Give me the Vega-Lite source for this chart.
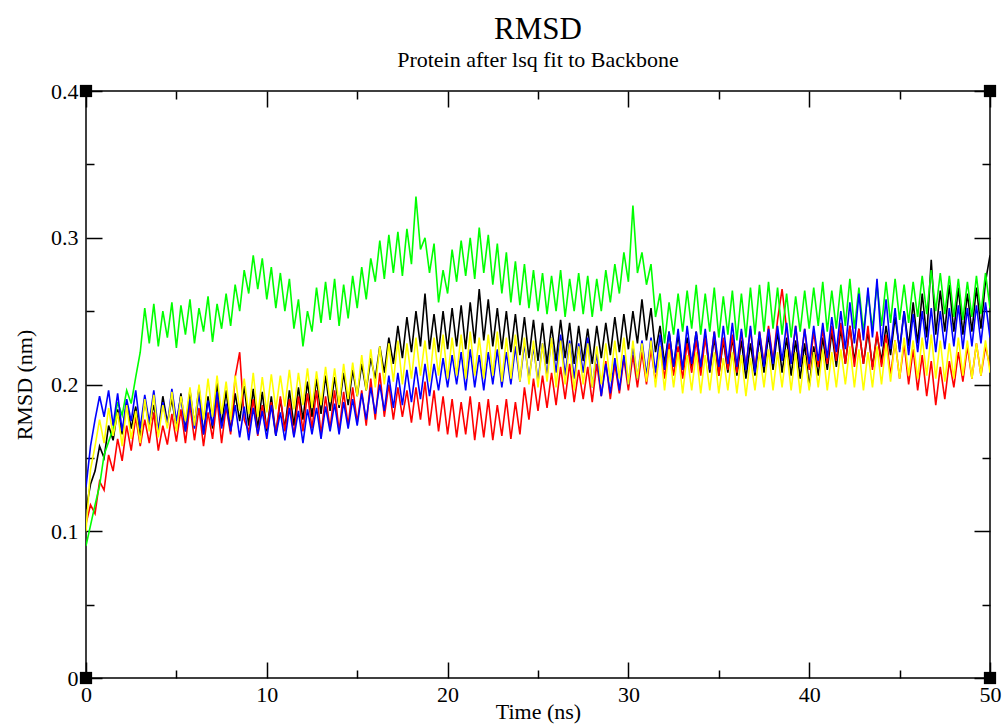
{
"$schema": "https://vega.github.io/schema/vega-lite/v6.json",
"width": 904, "height": 587,
"autosize": {"type": "none"},
"padding": {"left": 86, "top": 91, "right": 13, "bottom": 49},
"background": "white",
"config": {"font": "Liberation Serif", "view": {"stroke": "black", "strokeWidth": 1.5}},
"title": {"text": "RMSD", "subtitle": "Protein after lsq fit to Backbone", "anchor": "middle", "font": "Liberation Serif", "fontSize": 31, "fontWeight": "normal", "color": "black", "subtitleFont": "Liberation Serif", "subtitleFontSize": 22, "subtitleColor": "black", "offset": 8, "subtitlePadding": 4},
"datasets": {
"rmsd": [
{"t":0,"s0":0.115,"s1":0.105,"s2":0.090,"s3":0.130,"s4":0.100},
{"t":0.25,"s0":0.132,"s1":0.118,"s2":0.104,"s3":0.158,"s4":0.142},
{"t":0.5,"s0":0.141,"s1":0.112,"s2":0.118,"s3":0.176,"s4":0.158},
{"t":0.75,"s0":0.158,"s1":0.134,"s2":0.131,"s3":0.192,"s4":0.176},
{"t":1,"s0":0.150,"s1":0.128,"s2":0.152,"s3":0.178,"s4":0.160},
{"t":1.25,"s0":0.172,"s1":0.152,"s2":0.161,"s3":0.196,"s4":0.184},
{"t":1.5,"s0":0.162,"s1":0.141,"s2":0.170,"s3":0.172,"s4":0.165},
{"t":1.75,"s0":0.183,"s1":0.163,"s2":0.188,"s3":0.194,"s4":0.181},
{"t":2,"s0":0.166,"s1":0.148,"s2":0.179,"s3":0.168,"s4":0.158},
{"t":2.25,"s0":0.188,"s1":0.172,"s2":0.196,"s3":0.190,"s4":0.186},
{"t":2.5,"s0":0.170,"s1":0.155,"s2":0.187,"s3":0.175,"s4":0.163},
{"t":2.75,"s0":0.185,"s1":0.178,"s2":0.205,"s3":0.196,"s4":0.182},
{"t":3,"s0":0.164,"s1":0.158,"s2":0.222,"s3":0.170,"s4":0.160},
{"t":3.25,"s0":0.190,"s1":0.176,"s2":0.252,"s3":0.193,"s4":0.190},
{"t":3.5,"s0":0.172,"s1":0.160,"s2":0.228,"s3":0.174,"s4":0.168},
{"t":3.75,"s0":0.186,"s1":0.181,"s2":0.255,"s3":0.196,"s4":0.193},
{"t":4,"s0":0.168,"s1":0.155,"s2":0.226,"s3":0.168,"s4":0.164},
{"t":4.25,"s0":0.192,"s1":0.172,"s2":0.250,"s3":0.188,"s4":0.186},
{"t":4.5,"s0":0.174,"s1":0.159,"s2":0.232,"s3":0.172,"s4":0.170},
{"t":4.75,"s0":0.190,"s1":0.180,"s2":0.256,"s3":0.197,"s4":0.195},
{"t":5,"s0":0.170,"s1":0.161,"s2":0.225,"s3":0.175,"s4":0.168},
{"t":5.25,"s0":0.194,"s1":0.183,"s2":0.254,"s3":0.192,"s4":0.192},
{"t":5.5,"s0":0.168,"s1":0.160,"s2":0.234,"s3":0.168,"s4":0.175},
{"t":5.75,"s0":0.196,"s1":0.186,"s2":0.258,"s3":0.190,"s4":0.198},
{"t":6,"s0":0.172,"s1":0.162,"s2":0.228,"s3":0.170,"s4":0.172},
{"t":6.25,"s0":0.198,"s1":0.184,"s2":0.252,"s3":0.194,"s4":0.200},
{"t":6.5,"s0":0.166,"s1":0.158,"s2":0.236,"s3":0.166,"s4":0.176},
{"t":6.75,"s0":0.192,"s1":0.181,"s2":0.260,"s3":0.189,"s4":0.204},
{"t":7,"s0":0.170,"s1":0.163,"s2":0.229,"s3":0.172,"s4":0.178},
{"t":7.25,"s0":0.201,"s1":0.190,"s2":0.255,"s3":0.195,"s4":0.206},
{"t":7.5,"s0":0.172,"s1":0.160,"s2":0.238,"s3":0.170,"s4":0.180},
{"t":7.75,"s0":0.196,"s1":0.185,"s2":0.262,"s3":0.187,"s4":0.202},
{"t":8,"s0":0.168,"s1":0.166,"s2":0.240,"s3":0.168,"s4":0.176},
{"t":8.25,"s0":0.194,"s1":0.205,"s2":0.268,"s3":0.186,"s4":0.206},
{"t":8.5,"s0":0.175,"s1":0.222,"s2":0.250,"s3":0.164,"s4":0.182},
{"t":8.75,"s0":0.199,"s1":0.176,"s2":0.278,"s3":0.185,"s4":0.204},
{"t":9,"s0":0.172,"s1":0.168,"s2":0.262,"s3":0.162,"s4":0.180},
{"t":9.25,"s0":0.197,"s1":0.190,"s2":0.288,"s3":0.184,"s4":0.208},
{"t":9.5,"s0":0.170,"s1":0.165,"s2":0.265,"s3":0.166,"s4":0.178},
{"t":9.75,"s0":0.195,"s1":0.186,"s2":0.286,"s3":0.182,"s4":0.205},
{"t":10,"s0":0.168,"s1":0.170,"s2":0.258,"s3":0.163,"s4":0.181},
{"t":10.25,"s0":0.192,"s1":0.188,"s2":0.280,"s3":0.186,"s4":0.207},
{"t":10.5,"s0":0.165,"s1":0.166,"s2":0.252,"s3":0.165,"s4":0.183},
{"t":10.75,"s0":0.190,"s1":0.192,"s2":0.276,"s3":0.181,"s4":0.206},
{"t":11,"s0":0.170,"s1":0.168,"s2":0.250,"s3":0.162,"s4":0.185},
{"t":11.25,"s0":0.196,"s1":0.190,"s2":0.272,"s3":0.184,"s4":0.210},
{"t":11.5,"s0":0.172,"s1":0.165,"s2":0.238,"s3":0.164,"s4":0.183},
{"t":11.75,"s0":0.198,"s1":0.192,"s2":0.258,"s3":0.182,"s4":0.208},
{"t":12,"s0":0.176,"s1":0.168,"s2":0.226,"s3":0.160,"s4":0.186},
{"t":12.25,"s0":0.202,"s1":0.194,"s2":0.250,"s3":0.183,"s4":0.211},
{"t":12.5,"s0":0.178,"s1":0.170,"s2":0.236,"s3":0.166,"s4":0.184},
{"t":12.75,"s0":0.204,"s1":0.196,"s2":0.266,"s3":0.184,"s4":0.209},
{"t":13,"s0":0.180,"s1":0.166,"s2":0.242,"s3":0.163,"s4":0.186},
{"t":13.25,"s0":0.206,"s1":0.192,"s2":0.270,"s3":0.185,"s4":0.212},
{"t":13.5,"s0":0.182,"s1":0.170,"s2":0.244,"s3":0.168,"s4":0.188},
{"t":13.75,"s0":0.205,"s1":0.196,"s2":0.272,"s3":0.187,"s4":0.211},
{"t":14,"s0":0.184,"s1":0.168,"s2":0.240,"s3":0.166,"s4":0.186},
{"t":14.25,"s0":0.208,"s1":0.195,"s2":0.268,"s3":0.188,"s4":0.214},
{"t":14.5,"s0":0.186,"s1":0.172,"s2":0.245,"s3":0.170,"s4":0.190},
{"t":14.75,"s0":0.210,"s1":0.198,"s2":0.274,"s3":0.190,"s4":0.215},
{"t":15,"s0":0.192,"s1":0.174,"s2":0.252,"s3":0.172,"s4":0.192},
{"t":15.25,"s0":0.214,"s1":0.196,"s2":0.280,"s3":0.194,"s4":0.220},
{"t":15.5,"s0":0.196,"s1":0.172,"s2":0.258,"s3":0.176,"s4":0.196},
{"t":15.75,"s0":0.218,"s1":0.204,"s2":0.286,"s3":0.198,"s4":0.224},
{"t":16,"s0":0.204,"s1":0.176,"s2":0.270,"s3":0.180,"s4":0.198},
{"t":16.25,"s0":0.226,"s1":0.208,"s2":0.298,"s3":0.200,"s4":0.226},
{"t":16.5,"s0":0.208,"s1":0.178,"s2":0.272,"s3":0.182,"s4":0.200},
{"t":16.75,"s0":0.232,"s1":0.200,"s2":0.302,"s3":0.206,"s4":0.228},
{"t":17,"s0":0.214,"s1":0.176,"s2":0.276,"s3":0.184,"s4":0.202},
{"t":17.25,"s0":0.240,"s1":0.198,"s2":0.304,"s3":0.208,"s4":0.230},
{"t":17.5,"s0":0.218,"s1":0.178,"s2":0.274,"s3":0.186,"s4":0.200},
{"t":17.75,"s0":0.246,"s1":0.196,"s2":0.306,"s3":0.210,"s4":0.228},
{"t":18,"s0":0.222,"s1":0.174,"s2":0.282,"s3":0.188,"s4":0.204},
{"t":18.25,"s0":0.250,"s1":0.198,"s2":0.328,"s3":0.212,"s4":0.232},
{"t":18.5,"s0":0.226,"s1":0.176,"s2":0.292,"s3":0.190,"s4":0.206},
{"t":18.75,"s0":0.262,"s1":0.202,"s2":0.300,"s3":0.214,"s4":0.230},
{"t":19,"s0":0.224,"s1":0.172,"s2":0.276,"s3":0.192,"s4":0.202},
{"t":19.25,"s0":0.248,"s1":0.196,"s2":0.296,"s3":0.214,"s4":0.232},
{"t":19.5,"s0":0.222,"s1":0.168,"s2":0.256,"s3":0.196,"s4":0.206},
{"t":19.75,"s0":0.250,"s1":0.192,"s2":0.278,"s3":0.218,"s4":0.234},
{"t":20,"s0":0.224,"s1":0.166,"s2":0.262,"s3":0.198,"s4":0.204},
{"t":20.25,"s0":0.252,"s1":0.190,"s2":0.292,"s3":0.220,"s4":0.232},
{"t":20.5,"s0":0.226,"s1":0.164,"s2":0.270,"s3":0.200,"s4":0.206},
{"t":20.75,"s0":0.254,"s1":0.188,"s2":0.298,"s3":0.222,"s4":0.234},
{"t":21,"s0":0.224,"s1":0.166,"s2":0.274,"s3":0.196,"s4":0.204},
{"t":21.25,"s0":0.256,"s1":0.192,"s2":0.300,"s3":0.224,"s4":0.236},
{"t":21.5,"s0":0.228,"s1":0.162,"s2":0.272,"s3":0.198,"s4":0.206},
{"t":21.75,"s0":0.265,"s1":0.188,"s2":0.307,"s3":0.220,"s4":0.232},
{"t":22,"s0":0.230,"s1":0.164,"s2":0.276,"s3":0.196,"s4":0.204},
{"t":22.25,"s0":0.258,"s1":0.190,"s2":0.302,"s3":0.222,"s4":0.234},
{"t":22.5,"s0":0.226,"s1":0.162,"s2":0.268,"s3":0.200,"s4":0.206},
{"t":22.75,"s0":0.252,"s1":0.186,"s2":0.296,"s3":0.224,"s4":0.236},
{"t":23,"s0":0.224,"s1":0.165,"s2":0.262,"s3":0.198,"s4":0.202},
{"t":23.25,"s0":0.250,"s1":0.190,"s2":0.290,"s3":0.222,"s4":0.232},
{"t":23.5,"s0":0.222,"s1":0.163,"s2":0.256,"s3":0.200,"s4":0.204},
{"t":23.75,"s0":0.248,"s1":0.188,"s2":0.284,"s3":0.226,"s4":0.234},
{"t":24,"s0":0.220,"s1":0.166,"s2":0.254,"s3":0.202,"s4":0.202},
{"t":24.25,"s0":0.246,"s1":0.198,"s2":0.282,"s3":0.228,"s4":0.232},
{"t":24.5,"s0":0.218,"s1":0.176,"s2":0.252,"s3":0.204,"s4":0.200},
{"t":24.75,"s0":0.244,"s1":0.204,"s2":0.278,"s3":0.226,"s4":0.230},
{"t":25,"s0":0.216,"s1":0.182,"s2":0.250,"s3":0.202,"s4":0.198},
{"t":25.25,"s0":0.242,"s1":0.206,"s2":0.276,"s3":0.228,"s4":0.228},
{"t":25.5,"s0":0.214,"s1":0.184,"s2":0.248,"s3":0.206,"s4":0.202},
{"t":25.75,"s0":0.240,"s1":0.208,"s2":0.274,"s3":0.232,"s4":0.232},
{"t":26,"s0":0.216,"s1":0.186,"s2":0.250,"s3":0.208,"s4":0.198},
{"t":26.25,"s0":0.244,"s1":0.212,"s2":0.278,"s3":0.234,"s4":0.230},
{"t":26.5,"s0":0.218,"s1":0.190,"s2":0.246,"s3":0.206,"s4":0.200},
{"t":26.75,"s0":0.242,"s1":0.214,"s2":0.272,"s3":0.230,"s4":0.228},
{"t":27,"s0":0.214,"s1":0.188,"s2":0.250,"s3":0.204,"s4":0.196},
{"t":27.25,"s0":0.240,"s1":0.210,"s2":0.276,"s3":0.228,"s4":0.226},
{"t":27.5,"s0":0.216,"s1":0.190,"s2":0.248,"s3":0.208,"s4":0.200},
{"t":27.75,"s0":0.238,"s1":0.212,"s2":0.274,"s3":0.232,"s4":0.228},
{"t":28,"s0":0.214,"s1":0.188,"s2":0.246,"s3":0.198,"s4":0.198},
{"t":28.25,"s0":0.240,"s1":0.214,"s2":0.272,"s3":0.222,"s4":0.226},
{"t":28.5,"s0":0.218,"s1":0.192,"s2":0.250,"s3":0.192,"s4":0.200},
{"t":28.75,"s0":0.242,"s1":0.216,"s2":0.278,"s3":0.214,"s4":0.228},
{"t":29,"s0":0.220,"s1":0.190,"s2":0.256,"s3":0.194,"s4":0.202},
{"t":29.25,"s0":0.246,"s1":0.214,"s2":0.282,"s3":0.218,"s4":0.230},
{"t":29.5,"s0":0.222,"s1":0.194,"s2":0.262,"s3":0.196,"s4":0.204},
{"t":29.75,"s0":0.248,"s1":0.218,"s2":0.290,"s3":0.220,"s4":0.232},
{"t":30,"s0":0.224,"s1":0.196,"s2":0.270,"s3":0.200,"s4":0.200},
{"t":30.25,"s0":0.250,"s1":0.220,"s2":0.322,"s3":0.226,"s4":0.230},
{"t":30.5,"s0":0.228,"s1":0.198,"s2":0.276,"s3":0.204,"s4":0.204},
{"t":30.75,"s0":0.258,"s1":0.222,"s2":0.290,"s3":0.230,"s4":0.228},
{"t":31,"s0":0.230,"s1":0.200,"s2":0.268,"s3":0.206,"s4":0.202},
{"t":31.25,"s0":0.252,"s1":0.224,"s2":0.282,"s3":0.232,"s4":0.230},
{"t":31.5,"s0":0.222,"s1":0.202,"s2":0.246,"s3":0.208,"s4":0.198},
{"t":31.75,"s0":0.240,"s1":0.226,"s2":0.262,"s3":0.234,"s4":0.226},
{"t":32,"s0":0.214,"s1":0.204,"s2":0.228,"s3":0.210,"s4":0.196},
{"t":32.25,"s0":0.236,"s1":0.228,"s2":0.256,"s3":0.236,"s4":0.224},
{"t":32.5,"s0":0.212,"s1":0.206,"s2":0.234,"s3":0.212,"s4":0.198},
{"t":32.75,"s0":0.234,"s1":0.226,"s2":0.262,"s3":0.238,"s4":0.222},
{"t":33,"s0":0.210,"s1":0.204,"s2":0.236,"s3":0.210,"s4":0.194},
{"t":33.25,"s0":0.232,"s1":0.228,"s2":0.264,"s3":0.240,"s4":0.220},
{"t":33.5,"s0":0.212,"s1":0.208,"s2":0.238,"s3":0.214,"s4":0.196},
{"t":33.75,"s0":0.236,"s1":0.230,"s2":0.268,"s3":0.236,"s4":0.222},
{"t":34,"s0":0.210,"s1":0.206,"s2":0.234,"s3":0.212,"s4":0.194},
{"t":34.25,"s0":0.234,"s1":0.232,"s2":0.262,"s3":0.238,"s4":0.220},
{"t":34.5,"s0":0.208,"s1":0.210,"s2":0.236,"s3":0.210,"s4":0.196},
{"t":34.75,"s0":0.232,"s1":0.236,"s2":0.266,"s3":0.236,"s4":0.222},
{"t":35,"s0":0.206,"s1":0.206,"s2":0.232,"s3":0.212,"s4":0.194},
{"t":35.25,"s0":0.230,"s1":0.232,"s2":0.260,"s3":0.240,"s4":0.218},
{"t":35.5,"s0":0.208,"s1":0.210,"s2":0.234,"s3":0.214,"s4":0.196},
{"t":35.75,"s0":0.232,"s1":0.234,"s2":0.264,"s3":0.242,"s4":0.222},
{"t":36,"s0":0.206,"s1":0.208,"s2":0.230,"s3":0.212,"s4":0.194},
{"t":36.25,"s0":0.230,"s1":0.236,"s2":0.262,"s3":0.238,"s4":0.220},
{"t":36.5,"s0":0.204,"s1":0.212,"s2":0.232,"s3":0.210,"s4":0.192},
{"t":36.75,"s0":0.228,"s1":0.238,"s2":0.266,"s3":0.240,"s4":0.218},
{"t":37,"s0":0.206,"s1":0.210,"s2":0.234,"s3":0.208,"s4":0.196},
{"t":37.25,"s0":0.232,"s1":0.236,"s2":0.268,"s3":0.236,"s4":0.222},
{"t":37.5,"s0":0.208,"s1":0.214,"s2":0.236,"s3":0.212,"s4":0.198},
{"t":37.75,"s0":0.234,"s1":0.240,"s2":0.270,"s3":0.238,"s4":0.224},
{"t":38,"s0":0.210,"s1":0.216,"s2":0.238,"s3":0.214,"s4":0.196},
{"t":38.25,"s0":0.236,"s1":0.244,"s2":0.266,"s3":0.240,"s4":0.222},
{"t":38.5,"s0":0.208,"s1":0.265,"s2":0.234,"s3":0.216,"s4":0.198},
{"t":38.75,"s0":0.232,"s1":0.238,"s2":0.262,"s3":0.242,"s4":0.224},
{"t":39,"s0":0.206,"s1":0.214,"s2":0.232,"s3":0.214,"s4":0.196},
{"t":39.25,"s0":0.230,"s1":0.240,"s2":0.260,"s3":0.240,"s4":0.222},
{"t":39.5,"s0":0.204,"s1":0.212,"s2":0.236,"s3":0.212,"s4":0.194},
{"t":39.75,"s0":0.228,"s1":0.238,"s2":0.264,"s3":0.238,"s4":0.220},
{"t":40,"s0":0.198,"s1":0.210,"s2":0.238,"s3":0.214,"s4":0.196},
{"t":40.25,"s0":0.226,"s1":0.236,"s2":0.266,"s3":0.240,"s4":0.222},
{"t":40.5,"s0":0.206,"s1":0.212,"s2":0.240,"s3":0.216,"s4":0.198},
{"t":40.75,"s0":0.232,"s1":0.238,"s2":0.270,"s3":0.242,"s4":0.224},
{"t":41,"s0":0.210,"s1":0.214,"s2":0.236,"s3":0.218,"s4":0.196},
{"t":41.25,"s0":0.236,"s1":0.240,"s2":0.264,"s3":0.246,"s4":0.222},
{"t":41.5,"s0":0.212,"s1":0.216,"s2":0.238,"s3":0.222,"s4":0.198},
{"t":41.75,"s0":0.238,"s1":0.242,"s2":0.268,"s3":0.250,"s4":0.224},
{"t":42,"s0":0.214,"s1":0.214,"s2":0.240,"s3":0.224,"s4":0.200},
{"t":42.25,"s0":0.240,"s1":0.240,"s2":0.272,"s3":0.256,"s4":0.226},
{"t":42.5,"s0":0.216,"s1":0.212,"s2":0.238,"s3":0.228,"s4":0.198},
{"t":42.75,"s0":0.238,"s1":0.238,"s2":0.266,"s3":0.262,"s4":0.224},
{"t":43,"s0":0.214,"s1":0.214,"s2":0.236,"s3":0.230,"s4":0.196},
{"t":43.25,"s0":0.236,"s1":0.240,"s2":0.262,"s3":0.266,"s4":0.222},
{"t":43.5,"s0":0.212,"s1":0.210,"s2":0.238,"s3":0.232,"s4":0.198},
{"t":43.75,"s0":0.234,"s1":0.236,"s2":0.268,"s3":0.272,"s4":0.226},
{"t":44,"s0":0.216,"s1":0.212,"s2":0.240,"s3":0.226,"s4":0.200},
{"t":44.25,"s0":0.240,"s1":0.234,"s2":0.270,"s3":0.258,"s4":0.228},
{"t":44.5,"s0":0.220,"s1":0.206,"s2":0.242,"s3":0.224,"s4":0.202},
{"t":44.75,"s0":0.246,"s1":0.230,"s2":0.272,"s3":0.252,"s4":0.230},
{"t":45,"s0":0.224,"s1":0.204,"s2":0.244,"s3":0.222,"s4":0.204},
{"t":45.25,"s0":0.250,"s1":0.228,"s2":0.268,"s3":0.250,"s4":0.232},
{"t":45.5,"s0":0.226,"s1":0.200,"s2":0.242,"s3":0.220,"s4":0.206},
{"t":45.75,"s0":0.256,"s1":0.224,"s2":0.270,"s3":0.248,"s4":0.230},
{"t":46,"s0":0.228,"s1":0.196,"s2":0.246,"s3":0.222,"s4":0.204},
{"t":46.25,"s0":0.262,"s1":0.220,"s2":0.274,"s3":0.250,"s4":0.232},
{"t":46.5,"s0":0.232,"s1":0.192,"s2":0.248,"s3":0.224,"s4":0.206},
{"t":46.75,"s0":0.285,"s1":0.216,"s2":0.278,"s3":0.252,"s4":0.234},
{"t":47,"s0":0.234,"s1":0.186,"s2":0.250,"s3":0.222,"s4":0.204},
{"t":47.25,"s0":0.264,"s1":0.212,"s2":0.276,"s3":0.250,"s4":0.230},
{"t":47.5,"s0":0.236,"s1":0.190,"s2":0.248,"s3":0.224,"s4":0.202},
{"t":47.75,"s0":0.268,"s1":0.216,"s2":0.274,"s3":0.252,"s4":0.228},
{"t":48,"s0":0.236,"s1":0.198,"s2":0.246,"s3":0.226,"s4":0.204},
{"t":48.25,"s0":0.266,"s1":0.222,"s2":0.272,"s3":0.254,"s4":0.232},
{"t":48.5,"s0":0.234,"s1":0.202,"s2":0.244,"s3":0.224,"s4":0.206},
{"t":48.75,"s0":0.262,"s1":0.226,"s2":0.270,"s3":0.252,"s4":0.230},
{"t":49,"s0":0.236,"s1":0.204,"s2":0.246,"s3":0.226,"s4":0.204},
{"t":49.25,"s0":0.266,"s1":0.228,"s2":0.274,"s3":0.254,"s4":0.228},
{"t":49.5,"s0":0.238,"s1":0.206,"s2":0.248,"s3":0.228,"s4":0.206},
{"t":49.75,"s0":0.270,"s1":0.226,"s2":0.276,"s3":0.256,"s4":0.230},
{"t":50,"s0":0.288,"s1":0.212,"s2":0.252,"s3":0.232,"s4":0.208}
],
"corners": [{"t":0,"v":0},{"t":0,"v":0.4},{"t":50,"v":0},{"t":50,"v":0.4}]
},
"layer": [
{
"data": {"name": "rmsd"},
"transform": [{"fold": ["s0","s1","s2","s3","s4"], "as": ["s","v"]}],
"mark": {"type": "line", "strokeWidth": 1.6, "clip": true},
"encoding": {
"x": {"field": "t", "type": "quantitative", "scale": {"domain": [0,50], "nice": false, "zero": false},
"axis": {"orient": "bottom", "values": [0,5,10,15,20,25,30,35,40,45,50], "domain": false, "grid": false,
"tickSize": {"condition": {"test": "datum.value % 10 === 0", "value": -16}, "value": -8},
"tickColor": "black", "tickWidth": 1.5,
"labelExpr": "datum.value % 10 === 0 ? format(datum.value, 'd') : ''",
"labelFont": "Liberation Serif", "labelFontSize": 22, "labelColor": "black", "labelPadding": 22, "labelFlush": false,
"title": "Time (ns)", "titleFont": "Liberation Serif", "titleFontSize": 22, "titleFontWeight": "normal", "titleColor": "black", "titlePadding": -4}},
"y": {"field": "v", "type": "quantitative", "scale": {"domain": [0,0.4], "nice": false},
"axis": {"orient": "left", "values": [0,0.05,0.1,0.15,0.2,0.25,0.3,0.35,0.4], "domain": false, "grid": false,
"tickSize": {"condition": {"test": "round(datum.value*100) % 10 === 0", "value": -16}, "value": -8},
"tickColor": "black", "tickWidth": 1.5,
"labelExpr": "round(datum.value*100) % 10 === 0 ? (datum.value === 0 ? '0' : format(datum.value, '.1f')) : ''",
"labelFont": "Liberation Serif", "labelFontSize": 22, "labelColor": "black", "labelPadding": 24, "labelFlush": false,
"title": "RMSD (nm)", "titleFont": "Liberation Serif", "titleFontSize": 22, "titleFontWeight": "normal", "titleColor": "black", "titlePadding": 14}},
"color": {"field": "s", "type": "nominal", "scale": {"domain": ["s0","s1","s2","s3","s4"], "range": ["#000000","#ff0000","#00ff00","#0000ff","#ffff00"]}, "legend": null}
}
},
{
"data": {"name": "corners"},
"mark": {"type": "square", "size": 150, "filled": true, "color": "black", "opacity": 1},
"encoding": {
"x": {"field": "t", "type": "quantitative",
"axis": {"orient": "top", "values": [0,5,10,15,20,25,30,35,40,45,50], "domain": false, "grid": false, "labels": false, "title": null,
"tickSize": {"condition": {"test": "datum.value % 10 === 0", "value": -16}, "value": -8}, "tickColor": "black", "tickWidth": 1.5}},
"y": {"field": "v", "type": "quantitative",
"axis": {"orient": "right", "values": [0,0.05,0.1,0.15,0.2,0.25,0.3,0.35,0.4], "domain": false, "grid": false, "labels": false, "title": null,
"tickSize": {"condition": {"test": "round(datum.value*100) % 10 === 0", "value": -16}, "value": -8}, "tickColor": "black", "tickWidth": 1.5}}
}
}
]
}
